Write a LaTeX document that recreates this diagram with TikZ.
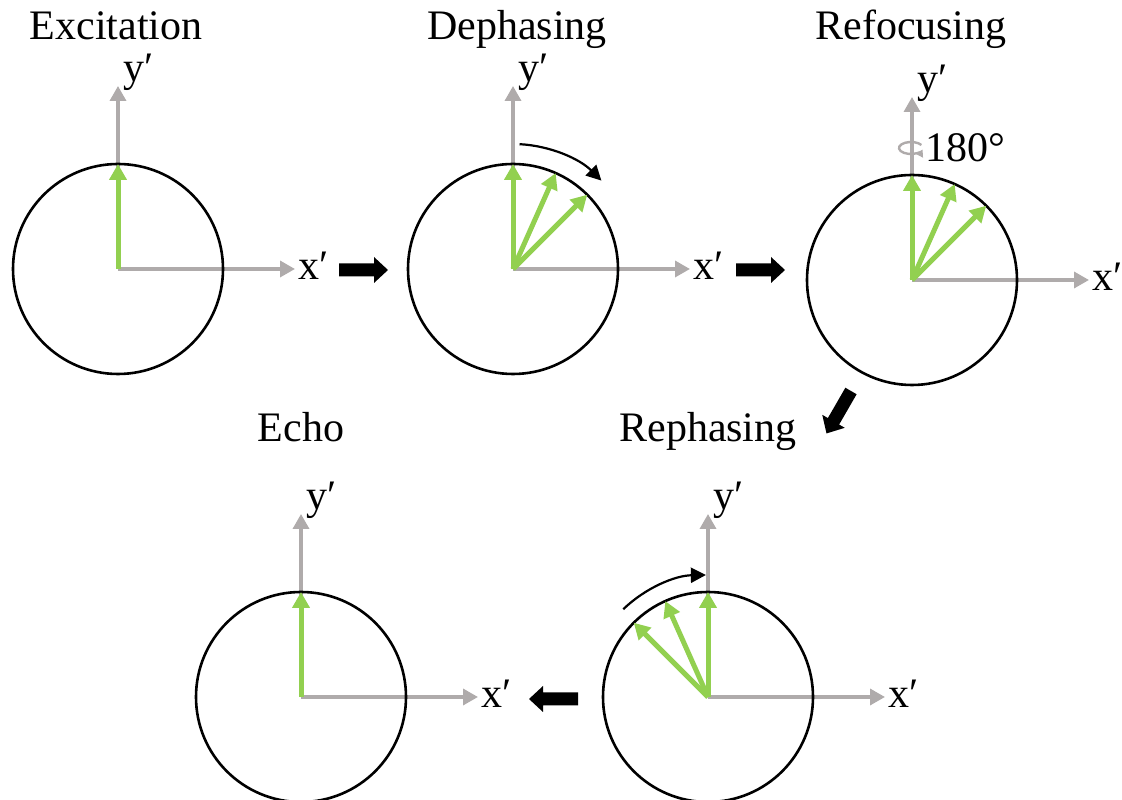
\documentclass[tikz,border=0pt]{standalone}
\usepackage{fontspec}
\setmainfont{Liberation Serif}
\usetikzlibrary{calc,arrows.meta}

\definecolor{spingreen}{RGB}{146,208,80}
\definecolor{axisgray}{RGB}{175,171,171}

\tikzset{
  ring/.style={draw=black, line width=2.6pt},
  axisline/.style={draw=axisgray, line width=3.4pt, -{Triangle[width=16pt,length=15pt]}},
  spin/.style={draw=spingreen, line width=5pt, -{Triangle[width=17pt,length=16pt]}},
  sweep/.style={draw=black, line width=2.2pt, -{Triangle[width=15pt,length=15pt]}},
  lbl/.style={font=\fontsize{42}{42}\selectfont, inner sep=0pt},
  blockarrow/.pic={\fill[black] (0,-6.5) -- (35,-6.5) -- (35,-13) -- (49,0)
                    -- (35,13) -- (35,6.5) -- (0,6.5) -- cycle;}
}

% one rotating-frame panel: axes x', y' and the unit circle
\newcommand\spinpanel[2]{%
  \coordinate (#1) at #2;
  \coordinate (#1-x) at ($(#1)+(177,0)$);
  \coordinate (#1-y) at ($(#1)+(0,183)$);
  \draw[axisline] (#1) -- (#1-x);
  \draw[axisline] (#1) -- (#1-y);
  \draw[ring] (#1) circle[radius=105];
  \node[lbl, anchor=base west] (#1-xl) at ($(#1-x)+(3,-11)$) {x′};
  \node[lbl, anchor=base west] (#1-yl) at ($(#1-y)+(5,4)$) {y′};
}

\begin{document}
\begin{tikzpicture}[x=1pt,y=1pt]
\useasboundingbox (0,0) rectangle (1122,800);

% panels
\spinpanel{exc}{(118,531)}
\spinpanel{dep}{(513,531)}
\spinpanel{ref}{(912,520)}
\spinpanel{rep}{(708,103)}
\spinpanel{echo}{(301,103)}

% titles
\node[lbl, anchor=base] (t-exc)  at (116,760) {Excitation};
\node[lbl, anchor=base] (t-dep)  at (517,760) {Dephasing};
\node[lbl, anchor=base] (t-ref)  at (911,760) {Refocusing};
\node[lbl, anchor=base] (t-rep)  at (708,358) {Rephasing};
\node[lbl, anchor=base] (t-echo) at (301,358) {Echo};

% magnetisation vectors
\draw[spin] (exc) -- ++(90:105);

\draw[spin] (dep) -- ++(90:105);
\draw[spin] (dep) -- ++(66:105);
\draw[spin] (dep) -- ++(45:105);
\draw[sweep] ($(dep)+(87:125)$) arc[start angle=87, end angle=45, radius=125];

\draw[spin] (ref) -- ++(90:105);
\draw[spin] (ref) -- ++(66:105);
\draw[spin] (ref) -- ++(45:105);

\draw[spin] (rep) -- ++(90:105);
\draw[spin] (rep) -- ++(114:105);
\draw[spin] (rep) -- ++(135:105);
\draw[sweep] ($(rep)+(134:122)$) arc[start angle=134, end angle=91, radius=122];

\draw[spin] (echo) -- ++(90:105);

% 180 degree pulse about y'
\coordinate (rot) at (911,652);
\draw[draw=axisgray, line width=2.4pt, -{Triangle[width=8pt,length=7pt]}]
  ($(rot)+(30:12 and 6)$) arc[start angle=30, end angle=345, x radius=12, y radius=6];
\node[lbl, anchor=base west] (deg) at (925,638) {180°};

% sequence arrows
\pic at (339,530) {blockarrow};
\pic at (736,530) {blockarrow};
\pic[rotate=240] at (851,409) {blockarrow};
\pic[rotate=180] at (578,101) {blockarrow};
\end{tikzpicture}
\end{document}
